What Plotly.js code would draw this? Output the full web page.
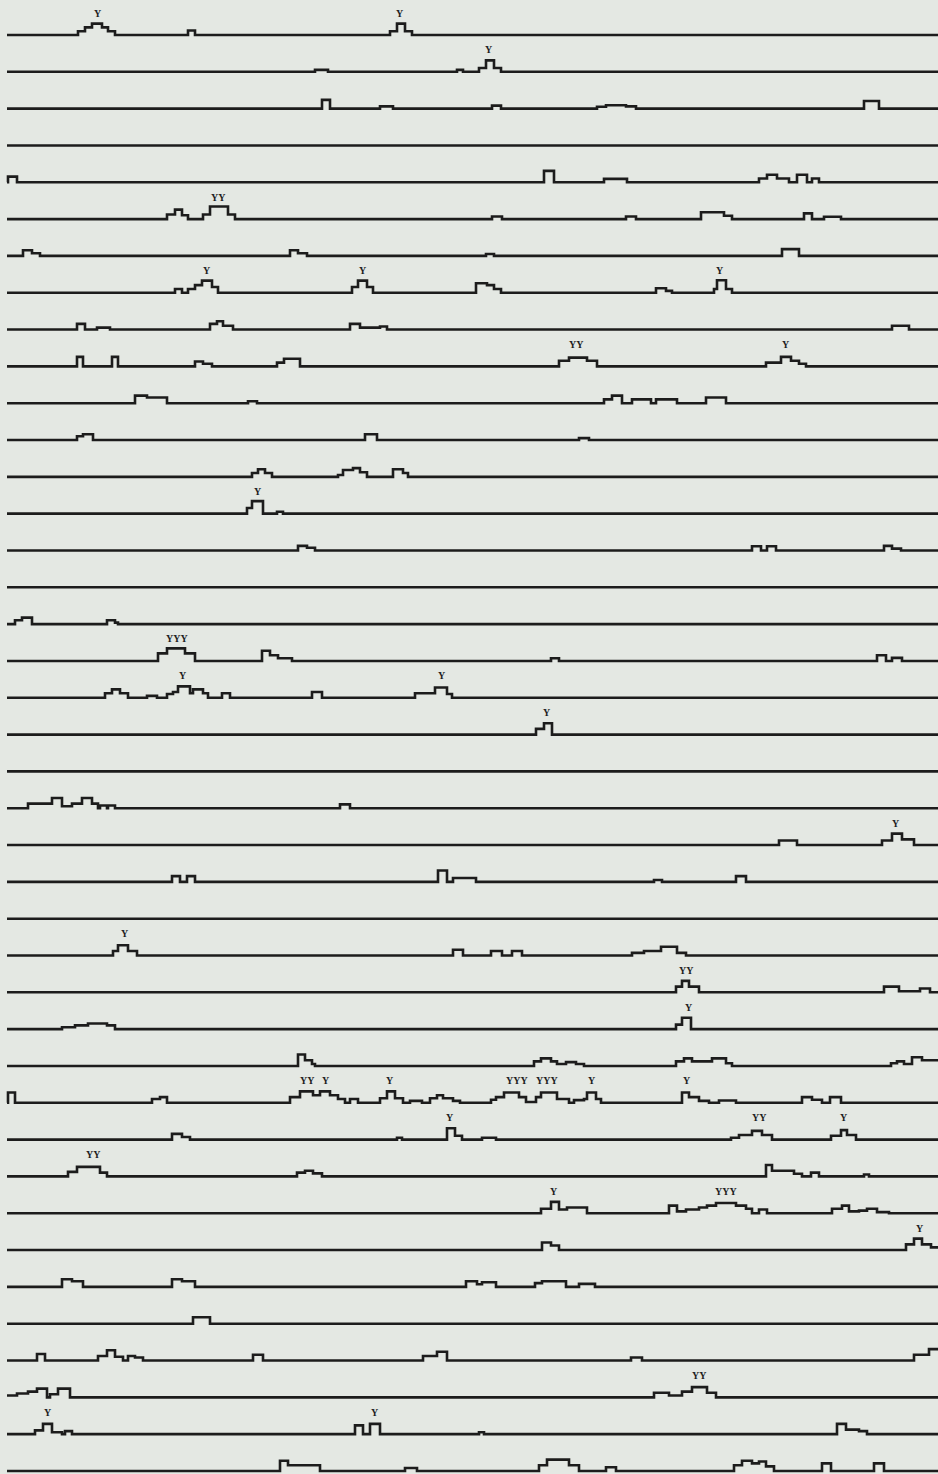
<!DOCTYPE html>
<html><head><meta charset="utf-8">
<script src="https://cdn.plot.ly/plotly-3.0.1.min.js"></script>
<style>html,body{margin:0;padding:0;background:#e4e8e3;}#chart{width:938px;height:1474px;}</style>
</head><body><div id="chart"></div>
<script>
// Each trace: segments [start, end, level] above the baseline (level 0 elsewhere)
const r01=[[78,85,1],[85,92,2],[92,102,3],[102,108,2],[108,115,1],[188,195,1.2],[390,397,1],[397,405,3],[405,412,1]];
const r02=[[315,328,0.5],[457,463,0.5],[479,486,1],[486,494,3],[494,501,1]];
const r03=[[322,330,2.3],[380,393,0.6],[492,501,0.8],[597,606,0.5],[606,626,0.9],[626,636,0.6],[864,879,2]];
const r04=[];
const r05=[[8,17,1.5],[544,554,3],[604,627,0.9],[759,767,1],[767,777,2],[777,789,1],[797,807,2],[812,819,1]];
const r06=[[167,175,1.2],[175,182,2.5],[182,188,1],[203,210,1.2],[210,228,3.3],[228,235,1.2],[492,502,0.7],[626,636,0.7],[701,724,1.8],[724,732,0.9],[804,812,1.5],[824,841,0.6]];
const r07=[[23,32,1.5],[32,40,0.7],[290,298,1.5],[298,307,0.7],[486,494,0.5],[782,799,1.8]];
const r08=[[175,182,1],[188,195,1],[195,202,2],[202,212,3.2],[212,218,1.5],[352,358,1.5],[358,367,3.2],[367,373,1.5],[476,487,2.5],[487,494,2],[494,501,1],[656,666,1.2],[666,672,0.5],[714,717,1],[717,726,3.3],[726,732,1]];
const r09=[[77,85,1.5],[97,110,0.5],[210,217,1.5],[217,223,2.2],[223,233,1],[350,360,1.5],[360,380,0.5],[380,387,0.8],[892,909,1]];
const r10=[[77,83,2.5],[112,118,2.5],[195,203,1.3],[203,212,0.7],[277,284,1],[284,300,2],[559,569,1.5],[569,587,2.3],[587,597,1.5],[766,781,1],[781,791,2.5],[791,799,1.5],[799,806,0.7]];
const r11=[[135,147,2],[147,167,1.5],[248,257,0.5],[604,612,1],[612,622,2],[632,651,1],[656,677,1],[706,726,1.5]];
const r12=[[77,83,1],[83,93,1.5],[365,377,1.5],[579,589,0.5]];
const r13=[[252,258,1],[258,265,2],[265,272,1],[338,343,0.5],[343,353,1.8],[353,360,2.3],[360,367,1.2],[393,403,2],[403,408,1]];
const r14=[[247,252,1.5],[252,263,3.3],[277,283,0.5]];
const r15=[[298,307,1.2],[307,315,0.7],[752,761,1.1],[767,776,1.1],[884,892,1.2],[892,901,0.5]];
const r16=[];
const r17=[[15,22,1],[22,32,1.7],[107,115,1],[115,118,0.4]];
const r18=[[158,167,2],[167,185,3.3],[185,195,2],[262,270,2.7],[270,278,1.5],[278,292,0.7],[551,559,0.7],[877,886,1.5],[892,902,0.8]];
const r19=[[105,112,1.2],[112,120,2.2],[120,128,1.2],[147,157,0.5],[167,173,1],[173,178,1.5],[178,190,3],[190,193,1.2],[193,203,2.2],[203,208,1.2],[222,230,1.2],[312,322,1.5],[415,435,1.2],[435,447,2.7],[447,452,1]];
const r20=[[536,544,1.5],[544,552,3]];
const r21=[];
const r22=[[28,52,1.2],[52,62,2.7],[62,72,0.5],[72,82,1.2],[82,92,2.7],[92,98,1.2],[100,107,0.7],[108,115,0.7],[340,350,1]];
const r23=[[779,797,1.2],[882,892,1.2],[892,902,3],[902,914,1.5]];
const r24=[[172,180,1.5],[187,195,1.5],[438,447,3],[453,476,1],[654,662,0.5],[736,746,1.5]];
const r25=[];
const r26=[[113,118,1.2],[118,128,2.7],[128,137,1.2],[453,463,1.5],[491,502,1.2],[512,522,1.2],[632,644,0.7],[644,661,1.2],[661,677,2.3],[677,686,0.7]];
const r27=[[676,682,1.5],[682,689,3],[689,699,1.5],[884,899,1.5],[899,920,0.3],[920,930,1]];
const r28=[[62,75,0.5],[75,88,1],[88,107,1.5],[107,115,1],[676,682,1.2],[682,691,3]];
const r29=[[298,305,3],[305,312,1.5],[312,315,0.5],[534,541,1.2],[541,551,2],[551,557,1.2],[557,566,0.5],[566,576,1],[576,584,0.5],[676,684,1.2],[684,692,2],[692,712,1.2],[712,726,2],[726,732,0.7],[891,897,0.7],[897,904,1.2],[904,912,0.5],[912,922,2.3],[922,938,1.5]];
const r30=[[8,15,2.7],[152,160,1],[160,167,1.5],[290,300,1.5],[300,313,3],[313,320,2],[320,330,3],[330,338,2],[338,345,1],[350,358,1],[380,387,1.2],[387,395,3],[395,403,1.2],[410,422,0.5],[430,437,1.2],[437,443,2],[443,453,1.2],[453,460,0.5],[491,496,0.8],[496,504,1.5],[504,519,2.7],[519,526,1.5],[526,536,0.2],[536,541,1.5],[541,557,2.7],[557,569,1],[574,584,0.7],[584,587,1],[587,596,2.7],[596,601,1],[682,689,2.7],[689,699,1.5],[699,709,0.5],[719,736,0.6],[802,812,1.5],[812,822,0.8],[830,841,1.5]];
const r31=[[172,182,1.5],[182,190,0.7],[397,402,0.5],[447,455,3],[455,462,1],[482,496,0.5],[731,739,0.5],[739,752,1.2],[752,762,2.3],[762,772,1.2],[831,841,1],[841,847,2.5],[847,856,1.2]];
const r32=[[68,77,1.2],[77,100,2.5],[100,107,1],[297,305,1],[305,313,1.5],[313,322,0.8],[766,772,3],[772,794,1.5],[794,802,0.7],[811,819,1],[864,869,0.5]];
const r33=[[541,551,1.2],[551,559,3],[559,567,1],[567,587,1.5],[669,677,2],[677,686,0.5],[686,699,1],[699,707,1.5],[707,716,2],[716,736,2.7],[736,746,2],[746,752,1.2],[759,767,1],[832,842,1.2],[842,849,2],[849,859,0.5],[859,867,0.7],[867,877,1.2],[877,889,0.3]];
const r34=[[542,551,2],[551,559,1.2],[906,914,1.5],[914,922,3],[922,931,1.5],[931,938,0.7]];
const r35=[[62,72,2],[72,83,1.5],[172,182,2],[182,195,1.5],[466,477,1.5],[477,482,0.7],[482,496,1.2],[535,542,1],[542,566,1.5],[579,595,0.8]];
const r36=[[193,210,1.7]];
const r37=[[37,45,1.7],[98,107,1.2],[107,115,2.7],[115,123,1],[128,135,1.2],[135,143,0.8],[253,263,1.5],[423,437,1.2],[437,447,2.3],[631,642,0.8],[914,929,1.5],[929,938,3]];
const r38=[[7,17,0.5],[17,28,1],[28,37,1.5],[37,47,2.3],[50,58,0.8],[58,70,2.3],[654,669,1.2],[669,682,0.5],[682,692,1.5],[692,707,2.7],[707,716,1.2]];
const r39=[[35,43,1],[43,52,2.7],[52,62,0.5],[65,72,0.8],[355,363,2.3],[370,380,2.7],[479,484,0.5],[837,846,2.7],[846,859,1.2],[859,867,0.8]];
const r40=[[280,288,2.7],[288,320,1.5],[405,417,0.8],[539,547,1.5],[547,569,3],[569,579,1.5],[606,616,1],[734,742,1.5],[742,752,2.7],[752,759,2],[759,766,2.5],[766,774,1.2],[822,831,2],[874,884,2]];

// Markers: [row number, position, text]
const marks=[[1,98,"Y"],[1,400,"Y"],[2,489,"Y"],[6,218,"YY"],[8,207,"Y"],[8,363,"Y"],[8,720,"Y"],[10,576,"YY"],[10,786,"Y"],[14,258,"Y"],[18,177,"YYY"],[19,183,"Y"],[19,442,"Y"],[20,547,"Y"],[23,896,"Y"],[26,125,"Y"],[27,686,"YY"],[28,689,"Y"],[30,307,"YY"],[30,326,"Y"],[30,390,"Y"],[30,517,"YYY"],[30,547,"YYY"],[30,592,"Y"],[30,687,"Y"],[31,450,"Y"],[31,759,"YY"],[31,844,"Y"],[32,93,"YY"],[33,554,"Y"],[33,726,"YYY"],[34,920,"Y"],[38,699,"YY"],[39,48,"Y"],[39,375,"Y"]];

const rows=[r01,r02,r03,r04,r05,r06,r07,r08,r09,r10,r11,r12,r13,r14,r15,r16,r17,r18,r19,r20,r21,r22,r23,r24,r25,r26,r27,r28,r29,r30,r31,r32,r33,r34,r35,r36,r37,r38,r39,r40];

// layout constants (pixels)
const X0=7, X1=938, TOP=35, GAP=36.82, UNIT=3.8, LABEL_OFF=22;
const base=i=>-(TOP+i*GAP);

const traces=rows.map((segs,i)=>{
  const pts=[[X0,0]];
  segs.forEach(([a,b,l])=>{
    const last=pts[pts.length-1];
    if(Math.abs(last[0]-a)<0.01) last[1]=l; else pts.push([a,l]);
    if(b>=X1) pts.push([X1,l]); else pts.push([b,0]);
  });
  if(pts[pts.length-1][0]<X1) pts.push([X1,0]);
  return {x:pts.map(p=>p[0]),y:pts.map(p=>base(i)+p[1]*UNIT),
    mode:'lines',line:{shape:'hv',color:'#1c1c1c',width:2.6},hoverinfo:'skip',showlegend:false};
});

const annotations=marks.map(([r,x,t])=>({x:x,y:base(r-1)+LABEL_OFF,text:'<b>'+t+'</b>',showarrow:false,
  font:{family:'Liberation Serif',size:10,color:'#1e1e1e'},xanchor:'center',yanchor:'middle'}));

Plotly.newPlot('chart',traces,{
  width:938,height:1474,margin:{l:0,r:0,t:0,b:0},
  paper_bgcolor:'#e4e8e3',plot_bgcolor:'#e4e8e3',
  xaxis:{range:[0,938],visible:false,fixedrange:true},
  yaxis:{range:[-1474,0],visible:false,fixedrange:true},
  annotations:annotations,showlegend:false
},{displayModeBar:false,staticPlot:true});
</script></body></html>
